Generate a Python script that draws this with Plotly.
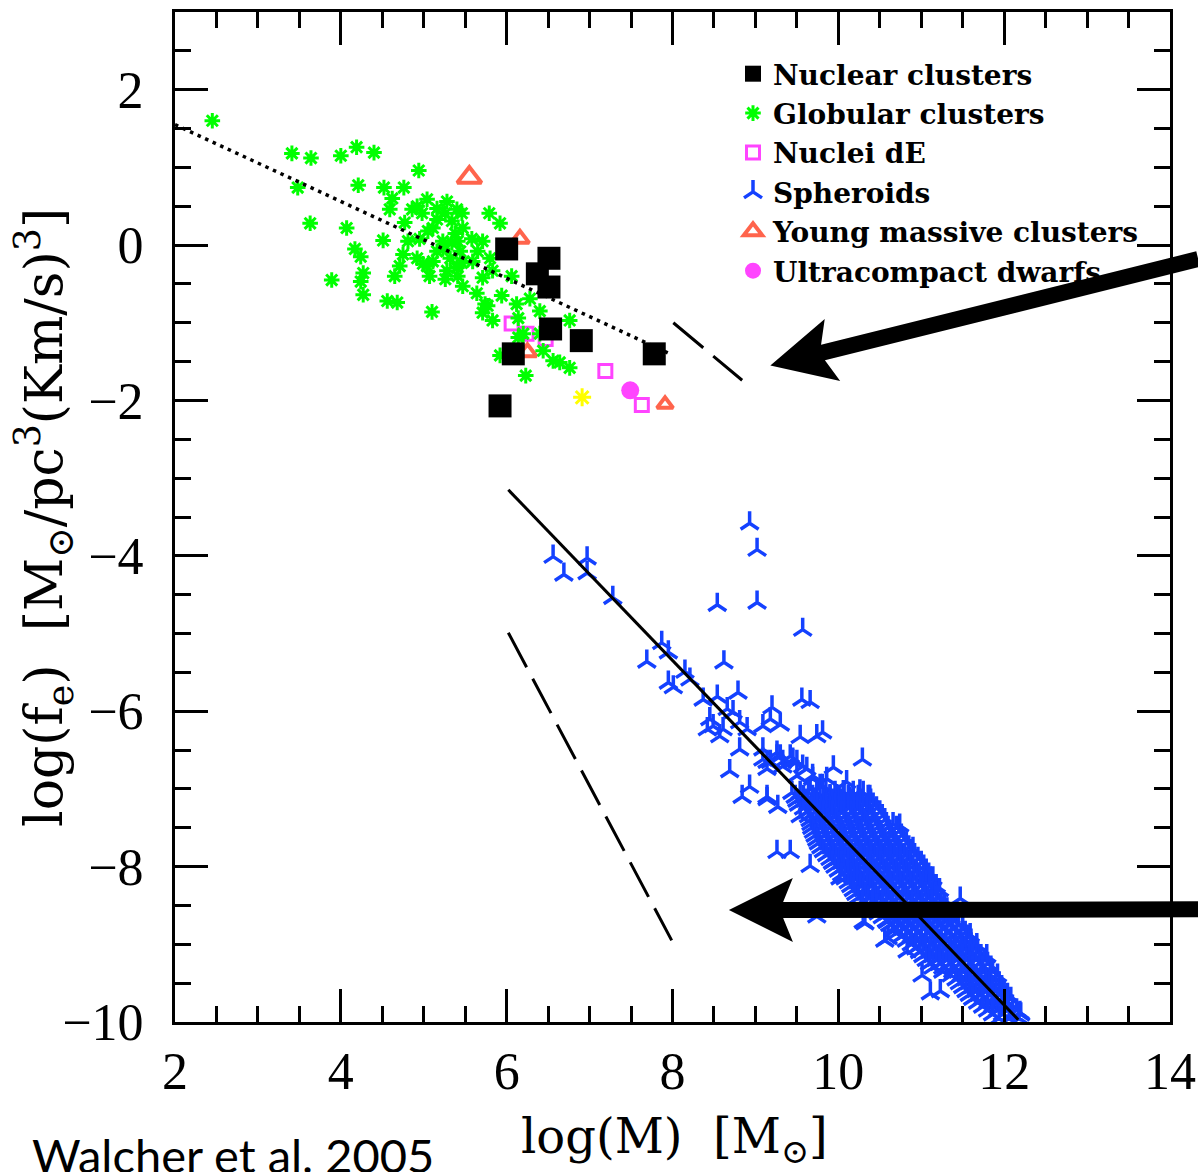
import plotly.graph_objects as go

# ---------------- data ----------------
X_RANGE = [2, 14]
Y_RANGE = [-10, 3]

# Nuclear clusters (black filled squares)
nc_x = [6.00, 6.51, 6.37, 6.51, 6.53, 6.90, 6.08, 7.78, 5.92]
nc_y = [-0.05, -0.17, -0.37, -0.54, -1.08, -1.23, -1.40, -1.40, -2.07]

# Globular clusters (green asterisks)
gc_x = [2.45, 3.41, 3.64, 4.00, 4.19, 4.40, 4.94, 3.48, 4.21, 4.52, 4.76, 4.62, 4.59,
        3.63, 4.07, 4.51, 4.17, 4.24, 3.89, 4.27, 4.24, 4.27, 4.56, 4.68, 5.10, 4.77,
        4.86, 4.92, 5.04, 4.98, 5.16, 5.28, 5.26, 5.40, 5.46, 5.16, 5.34, 5.47, 5.05,
        5.38, 4.81, 4.95, 5.23, 5.34, 5.41, 5.16, 5.23, 4.75, 4.92, 5.11, 5.46, 4.71,
        4.65, 5.04, 5.07, 5.26, 5.41, 5.47, 5.40, 5.79, 5.92, 5.58, 5.71, 5.65, 5.80,
        5.59, 5.71, 5.83, 6.06, 5.64, 5.94, 5.77, 5.71, 5.83, 6.12, 6.28, 6.40, 6.14,
        6.76, 6.20, 6.14, 6.44, 6.56, 6.64, 6.76, 5.92, 6.23, 6.40, 5.32, 5.74, 5.11,
        4.99, 5.28, 5.44]
gc_y = [1.60, 1.18, 1.12, 1.15, 1.26, 1.19, 0.96, 0.74, 0.77, 0.74, 0.74, 0.60, 0.46,
        0.28, 0.22, 0.06, -0.05, -0.15, -0.45, -0.36, -0.47, -0.64, -0.72, -0.74, -0.86, 0.29,
        0.46, 0.50, 0.59, 0.41, 0.47, 0.56, 0.41, 0.46, 0.41, 0.33, 0.31, 0.22, 0.18,
        0.15, 0.05, 0.08, 0.05, 0.03, 0.05, -0.08, -0.05, -0.12, -0.17, -0.21, -0.23, -0.27,
        -0.40, -0.27, -0.40, -0.44, -0.40, -0.53, -0.29, 0.41, 0.28, 0.08, 0.05, -0.08, -0.17,
        -0.21, -0.42, -0.33, -0.40, -0.62, -0.65, -0.78, -0.87, -0.97, -0.76, -0.69, -0.85, -0.94,
        -0.97, -1.14, -1.19, -1.36, -1.49, -1.51, -1.58, -1.42, -1.68, -1.14, -0.17, -0.76, 0.22,
        -0.24, -0.33, -0.08]

# Nuclei dE (magenta open squares)
nde_x = [6.06, 6.24, 6.47, 7.19, 7.63]
nde_y = [-1.01, -1.14, -1.21, -1.62, -2.06]

# Young massive clusters (red open triangles)
ymc_x = [5.55, 6.16, 6.25, 7.91]
ymc_y = [0.87, 0.08, -1.38, -2.05]
ymc_size = [21, 16, 16, 14]

# Ultracompact dwarfs (magenta filled circle)
ucd_x = [7.49]
ucd_y = [-1.87]

# extra yellow asterisk (not in legend)
yel_x = [6.91]
yel_y = [-1.96]

# Spheroids (blue tripods) - scattered points
sph_x = [6.56, 6.97, 6.69, 6.97, 7.28, 8.93, 9.02, 8.54, 9.02, 9.57, 7.87, 7.69, 7.95,
         8.62, 8.15, 7.95, 8.01, 8.21, 8.37, 8.54, 8.79, 9.56, 9.66, 9.20, 8.66, 8.73,
         8.45, 8.49, 8.61, 8.42, 8.57, 8.81, 8.90, 9.09, 9.18, 9.30, 9.54, 8.81, 8.69,
         9.09, 9.26, 9.33, 9.45, 9.74, 9.14, 9.81, 8.93, 8.84, 9.14, 9.27, 10.29, 9.94,
         10.74, 9.26, 9.42, 9.66, 9.74, 10.32, 10.60, 10.83, 11.01, 11.11, 11.23, 11.47,
         12.19, 9.09, 9.26, 9.42, 9.50, 9.62, 9.69, 9.78, 9.33, 9.18, 9.50, 9.66, 9.86,
         9.90, 10.06, 10.14, 10.02, 10.23, 10.35, 9.86, 9.78, 9.14, 9.30, 9.45, 9.57,
         9.69, 9.81, 10.10, 10.26, 10.38, 9.98, 10.10, 9.54, 9.14, 10.90, 11.07, 11.14,
         9.94, 10.02, 10.23, 10.26, 10.35, 10.30, 10.59, 10.66, 10.56, 11.59, 11.67, 11.79]
sph_y = [-4.01, -4.03, -4.24, -4.22, -4.54, -3.58, -3.92, -4.63, -4.60, -4.95, -5.12, -5.36, -5.24,
         -5.37, -5.49, -5.63, -5.69, -5.59, -5.85, -5.81, -5.76, -5.85, -5.88, -5.95, -5.97, -6.01,
         -6.10, -6.19, -6.23, -6.23, -6.32, -6.14, -6.23, -6.19, -6.10, -6.17, -6.33, -6.49, -6.77,
         -6.62, -6.58, -6.65, -6.62, -6.32, -6.74, -6.27, -6.97, -7.10, -7.10, -7.23, -6.62, -6.72,
         -7.47, -7.81, -7.81, -7.99, -8.64, -8.73, -8.92, -9.09, -9.40, -9.63, -9.60, -8.41,
         -9.88, -6.49, -6.53, -6.58, -6.65, -6.74, -6.87, -6.96, -6.71, -6.65, -6.83, -7.00, -6.87,
         -7.09, -7.04, -7.13, -7.26, -7.26, -7.35, -7.26, -7.35, -6.65, -6.58, -6.64, -6.71,
         -6.83, -6.96, -6.91, -7.03, -7.10, -7.09, -7.22, -7.35, -7.13, -7.77, -8.12, -8.15,
         -7.94, -8.15, -8.09, -8.22, -8.32, -8.71, -8.71, -8.83, -8.95, -8.88, -9.01, -9.15]

# Spheroids - dense core of the relation, read row by row (log f_e : log M values)
sph_core_rows = {
    -7.05: [9.44, 9.54, 9.64, 9.74, 9.85, 9.96, 10.07, 10.18, 10.30],
    -7.10: [9.48, 9.58, 9.69, 9.78, 9.90, 10.01, 10.12, 10.24, 10.36],
    -7.15: [9.50, 9.60, 9.71, 9.82, 9.93, 10.04, 10.15, 10.27, 10.39],
    -7.20: [9.52, 9.63, 9.74, 9.85, 9.96, 10.07, 10.18, 10.30, 10.42],
    -7.25: [9.58, 9.68, 9.79, 9.90, 10.01, 10.12, 10.23, 10.35, 10.46],
    -7.30: [9.62, 9.71, 9.82, 9.93, 10.04, 10.15, 10.26, 10.38, 10.50],
    -7.35: [9.64, 9.74, 9.85, 9.96, 10.07, 10.18, 10.29, 10.41, 10.53],
    -7.40: [9.66, 9.76, 9.87, 9.98, 10.09, 10.20, 10.31, 10.43, 10.56],
    -7.45: [9.67, 9.78, 9.89, 10.00, 10.11, 10.22, 10.33, 10.45, 10.58, 10.66],
    -7.50: [9.68, 9.79, 9.90, 10.01, 10.12, 10.23, 10.35, 10.47, 10.60, 10.70],
    -7.55: [9.70, 9.81, 9.92, 10.03, 10.14, 10.25, 10.37, 10.49, 10.62, 10.73],
    -7.60: [9.72, 9.83, 9.94, 10.05, 10.16, 10.27, 10.39, 10.51, 10.63, 10.76],
    -7.65: [9.74, 9.86, 9.97, 10.08, 10.19, 10.31, 10.43, 10.55, 10.67, 10.79],
    -7.70: [9.76, 9.88, 9.99, 10.10, 10.21, 10.33, 10.45, 10.57, 10.69, 10.82],
    -7.75: [9.79, 9.91, 10.02, 10.13, 10.25, 10.37, 10.49, 10.61, 10.73, 10.85],
    -7.80: [9.82, 9.93, 10.04, 10.15, 10.27, 10.39, 10.51, 10.63, 10.75, 10.88],
    -7.85: [9.86, 9.97, 10.08, 10.20, 10.32, 10.44, 10.56, 10.68, 10.80, 10.92],
    -7.90: [9.90, 10.01, 10.12, 10.23, 10.35, 10.47, 10.59, 10.71, 10.83, 10.96],
    -7.95: [9.93, 10.04, 10.15, 10.27, 10.39, 10.51, 10.63, 10.75, 10.87, 11.00],
    -8.00: [9.96, 10.07, 10.18, 10.30, 10.42, 10.54, 10.66, 10.78, 10.90, 11.03],
    -8.05: [10.00, 10.11, 10.22, 10.34, 10.46, 10.58, 10.70, 10.82, 10.94, 11.06],
    -8.10: [10.04, 10.15, 10.26, 10.38, 10.50, 10.62, 10.74, 10.86, 10.98, 11.09],
    -8.15: [10.08, 10.19, 10.31, 10.43, 10.55, 10.67, 10.79, 10.91, 11.03, 11.11],
    -8.20: [10.12, 10.23, 10.35, 10.47, 10.59, 10.71, 10.83, 10.95, 11.06],
    -8.25: [10.15, 10.27, 10.39, 10.51, 10.63, 10.75, 10.87, 10.99, 11.10, 11.18],
    -8.30: [10.18, 10.30, 10.42, 10.54, 10.66, 10.78, 10.90, 11.02, 11.14, 11.22],
    -8.35: [10.21, 10.33, 10.45, 10.57, 10.69, 10.81, 10.93, 11.05, 11.17],
    -8.40: [10.24, 10.36, 10.48, 10.60, 10.72, 10.84, 10.96, 11.08, 11.19],
    -8.45: [10.29, 10.41, 10.53, 10.65, 10.77, 10.89, 11.01, 11.13, 11.24],
    -8.50: [10.34, 10.46, 10.58, 10.70, 10.82, 10.94, 11.06, 11.18, 11.28],
    -8.55: [10.41, 10.53, 10.65, 10.77, 10.89, 11.01, 11.13, 11.25, 11.31],
    -8.60: [10.48, 10.60, 10.72, 10.84, 10.96, 11.08, 11.20, 11.32],
    -8.65: [10.53, 10.65, 10.77, 10.89, 11.01, 11.13, 11.25, 11.36],
    -8.70: [10.58, 10.70, 10.82, 10.94, 11.06, 11.18, 11.30, 11.40],
    -8.75: [10.62, 10.74, 10.86, 10.98, 11.10, 11.22, 11.34, 11.45],
    -8.80: [10.66, 10.78, 10.90, 11.02, 11.14, 11.26, 11.38, 11.50],
    -8.85: [10.71, 10.83, 10.95, 11.07, 11.19, 11.31, 11.43, 11.53],
    -8.90: [10.76, 10.88, 11.00, 11.12, 11.24, 11.36, 11.48, 11.56],
    -8.95: [10.82, 10.94, 11.06, 11.18, 11.30, 11.42, 11.54, 11.60],
    -9.00: [10.88, 11.00, 11.12, 11.24, 11.36, 11.48, 11.60],
    -9.05: [10.93, 11.05, 11.17, 11.29, 11.41, 11.53, 11.64],
    -9.10: [10.98, 11.10, 11.22, 11.34, 11.46, 11.58, 11.68],
    -9.15: [11.02, 11.14, 11.26, 11.38, 11.50, 11.62, 11.72],
    -9.20: [11.06, 11.18, 11.30, 11.42, 11.54, 11.66, 11.76],
    -9.25: [11.10, 11.22, 11.34, 11.46, 11.58, 11.70, 11.80],
    -9.30: [11.14, 11.26, 11.38, 11.50, 11.62, 11.74, 11.84],
    -9.35: [11.26, 11.38, 11.50, 11.62, 11.74, 11.86],
    -9.40: [11.36, 11.48, 11.60, 11.72, 11.84, 11.92],
    -9.45: [11.42, 11.54, 11.66, 11.78, 11.90],
    -9.50: [11.46, 11.58, 11.70, 11.82, 11.94],
    -9.55: [11.50, 11.62, 11.74, 11.86, 11.97],
    -9.60: [11.54, 11.66, 11.78, 11.90, 12.00],
    -9.65: [11.58, 11.70, 11.82, 11.94, 12.04],
    -9.70: [11.62, 11.74, 11.86, 11.98, 12.08],
    -9.75: [11.68, 11.80, 11.92, 12.04],
    -9.80: [11.74, 11.86, 11.98, 12.10],
    -9.85: [11.80, 11.92, 12.04, 12.15],
    -9.90: [11.86, 11.98, 12.10, 12.20],
    -9.95: [11.94, 12.06, 12.18],
}
for yv, xs in sph_core_rows.items():
    sph_x += xs
    sph_y += [yv] * len(xs)

# reference lines
dotted_x = [2.0, 7.97]
dotted_y = [1.55, -1.40]
dash_hi_x = [8.01, 8.84]
dash_hi_y = [-1.00, -1.74]
solid_x = [6.02, 12.17]
solid_y = [-3.15, -9.97]
dash_lo_x = [6.02, 7.99]
dash_lo_y = [-4.99, -8.95]

# arrows (tip, tail) in data units
arrows = [((9.18, -1.55), (14.34, -0.18)),
          ((8.68, -8.56), (14.34, -8.55))]

# ---------------- layout geometry ----------------
W, H = 1198, 1172
ML, MR, MT, MB = 175, 28, 12, 150
PW, PH = W - ML - MR, H - MT - MB

GREEN = '#00ff00'
BLUE = '#1441ff'
MAGENTA = '#ff44ff'
RED = '#ff2200'
YELLOW = '#ffff00'


def d2px(x, y):
    px = ML + (x - X_RANGE[0]) / (X_RANGE[1] - X_RANGE[0]) * PW
    py = MT + (Y_RANGE[1] - y) / (Y_RANGE[1] - Y_RANGE[0]) * PH
    return px, py


def px2paper(px, py):
    return (px - ML) / PW, (H - MB - py) / PH


def arrow_path(tip, tail, head_len=64, head_half=32, notch=51, shaft_half=8):
    tx, ty = d2px(*tip)
    ex, ey = d2px(*tail)
    L = ((ex - tx) ** 2 + (ey - ty) ** 2) ** 0.5
    dx, dy = (ex - tx) / L, (ey - ty) / L
    nx, ny = -dy, dx
    frac = (head_half - shaft_half) / head_half
    s_along = head_len + frac * (notch - head_len)

    def P(a, p):
        return px2paper(tx + dx * a + nx * p, ty + dy * a + ny * p)
    pts = [P(0, 0), P(head_len, head_half), P(s_along, shaft_half),
           P(L, shaft_half), P(L, -shaft_half), P(s_along, -shaft_half),
           P(head_len, -head_half)]
    return 'M ' + ' L '.join(f'{a:.5f},{b:.5f}' for a, b in pts) + ' Z'


fig = go.Figure()

fig.add_trace(go.Scatter(
    x=sph_x, y=sph_y, mode='markers', name='Spheroids', legendrank=4, legendgroup='g4',
    marker=dict(symbol='y-up', size=15, color=BLUE, line=dict(color=BLUE, width=3.5))))
fig.add_trace(go.Scatter(
    x=nde_x, y=nde_y, mode='markers', name='Nuclei dE', legendrank=3, legendgroup='g3',
    marker=dict(symbol='square-open', size=13, color=MAGENTA, line=dict(color=MAGENTA, width=3))))
fig.add_trace(go.Scatter(
    x=ymc_x, y=ymc_y, mode='markers', name='Young massive clusters', legendrank=5, legendgroup='g5',
    marker=dict(symbol='triangle-up-open', size=ymc_size, color=RED, line=dict(color=RED, width=4))))
fig.add_trace(go.Scatter(
    x=gc_x, y=gc_y, mode='markers', name='Globular clusters', legendrank=2, legendgroup='g2',
    marker=dict(symbol='asterisk', size=13, color=GREEN, line=dict(color=GREEN, width=3))))

line_style = dict(color='black', width=3)
fig.add_trace(go.Scatter(x=dotted_x, y=dotted_y, mode='lines', showlegend=False,
                         line=dict(color='black', width=3.5, dash='3.5px,4.8px')))
fig.add_trace(go.Scatter(x=dash_hi_x, y=dash_hi_y, mode='lines', showlegend=False,
                         line=dict(line_style, dash='39px,13px')))
fig.add_trace(go.Scatter(x=solid_x, y=solid_y, mode='lines', showlegend=False,
                         line=line_style))
fig.add_trace(go.Scatter(x=dash_lo_x, y=dash_lo_y, mode='lines', showlegend=False,
                         line=dict(line_style, dash='39px,13px')))

fig.add_trace(go.Scatter(
    x=yel_x, y=yel_y, mode='markers', showlegend=False,
    marker=dict(symbol='asterisk', size=15, color=YELLOW, line=dict(color=YELLOW, width=3))))
fig.add_trace(go.Scatter(
    x=ucd_x, y=ucd_y, mode='markers', name='Ultracompact dwarfs', legendrank=6, legendgroup='g6',
    marker=dict(symbol='circle', size=18, color=MAGENTA)))
fig.add_trace(go.Scatter(
    x=nc_x, y=nc_y, mode='markers', name='Nuclear clusters', legendrank=1, legendgroup='g1',
    marker=dict(symbol='square', size=23, color='black')))

for tip, tail in arrows:
    fig.add_shape(type='path', path=arrow_path(tip, tail), xref='paper', yref='paper',
                  fillcolor='black', line=dict(width=0), layer='above')

axis_common = dict(
    showline=True, linewidth=3, linecolor='black', mirror='ticks',
    ticks='inside', ticklen=33, tickwidth=3, tickcolor='black',
    showgrid=False, zeroline=False, automargin=False,
    tickfont=dict(family='Liberation Serif', size=52, color='black'),
    minor=dict(ticks='inside', ticklen=16, tickwidth=3, tickcolor='black',
               dtick=0.5, showgrid=False),
)
fig.update_xaxes(axis_common, range=X_RANGE, tick0=2, dtick=2, ticklabelstandoff=2)
fig.update_yaxes(axis_common, range=Y_RANGE, tick0=0, dtick=2, ticklabelstandoff=18)

lx, ly = px2paper(733, 49)
fig.update_layout(
    width=W, height=H,
    margin=dict(l=ML, r=MR, t=MT, b=MB, pad=0, autoexpand=False),
    plot_bgcolor='white', paper_bgcolor='white',
    showlegend=True,
    legend=dict(x=lx, y=ly, xanchor='left', yanchor='top', bgcolor='rgba(0,0,0,0)',
                font=dict(family='DejaVu Serif', size=28, color='black', weight='bold'),
                itemsizing='trace', traceorder='grouped', tracegroupgap=0),
)

# axis titles and credit as annotations
yt_x, yt_y = px2paper(44, 518)
xt_x, xt_y = px2paper(674, 1139)
wc_x, wc_y = px2paper(30, 1125)
title_font = dict(family='DejaVu Serif', size=48, color='black')
fig.add_annotation(text='log(f<sub>e</sub>)\u00a0\u00a0[M<sub>\u2299</sub>/pc<sup>3</sup>(Km/s)<sup>3</sup>]',
                   xref='paper', yref='paper', x=yt_x, y=yt_y, textangle=-90,
                   xanchor='center', yanchor='middle', showarrow=False,
                   font=dict(family='DejaVu Serif', size=52, color='black'))
fig.add_annotation(text='log(M)\u00a0\u00a0[M<sub>\u2299</sub>]',
                   xref='paper', yref='paper', x=xt_x, y=xt_y,
                   xanchor='center', yanchor='middle', showarrow=False, font=title_font)
fig.add_annotation(text='Walcher et al. 2005',
                   xref='paper', yref='paper', x=wc_x, y=wc_y,
                   xanchor='left', yanchor='top', showarrow=False,
                   font=dict(family='Lato', size=47, color='black'))

fig.write_html('out.html')
